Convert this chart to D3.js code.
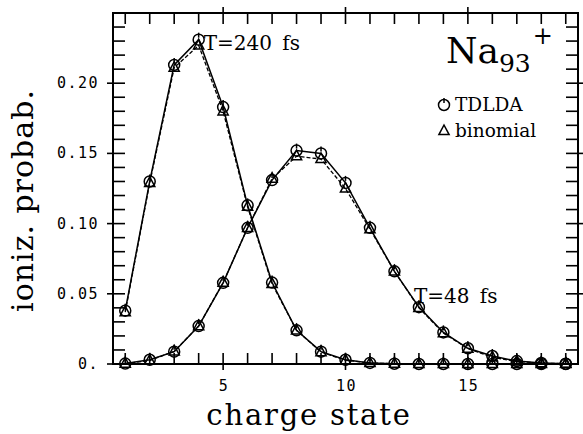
<!DOCTYPE html>
<html>
<head>
<meta charset="utf-8">
<script src="https://cdn.jsdelivr.net/npm/d3@7"></script>
<style>
body { margin: 0; background: #fff; }
</style>
</head>
<body>
<div id="chart"></div>
<script>
// data
var charge = [1, 2, 3, 4, 5, 6, 7, 8, 9, 10, 11, 12, 13, 14, 15, 16, 17, 18, 19];
var tdlda240 = [0.038, 0.130, 0.213, 0.231, 0.183, 0.113, 0.058, 0.024, 0.0088, 0.003, 0.0008, 0.0002, 0, 0, 0, 0, 0, 0, 0];
var binom240 = [0.037, 0.129, 0.211, 0.227, 0.180, 0.112, 0.057, 0.024, 0.0085, 0.0027, 0.0007, 0.0002, 0, 0, 0, 0, 0, 0, 0];
var tdlda48 = [0.0003, 0.003, 0.0088, 0.027, 0.0578, 0.097, 0.131, 0.152, 0.150, 0.129, 0.097, 0.066, 0.0405, 0.0225, 0.0112, 0.0057, 0.0021, 0.0007, 0.0002];
var binom48 = [0.0003, 0.0025, 0.009, 0.027, 0.058, 0.097, 0.132, 0.148, 0.146, 0.125, 0.096, 0.066, 0.040, 0.022, 0.011, 0.0048, 0.0018, 0.0006, 0.0002];
var xTickLabels = [5, 10, 15];
var yTickLabels = ['0.', '0.05', '0.10', '0.15', '0.20'];

var W = 583, H = 434;
var margin = { top: 13, right: 5, bottom: 70, left: 113 };
var width = W - margin.left - margin.right;
var height = H - margin.top - margin.bottom;

var svg = d3.select('#chart')
	.append('svg')
	.attr('width', W)
	.attr('height', H)
	.append('g')
	.attr('transform', 'translate(' + margin.left + ',' + margin.top + ')');

var x = d3.scaleLinear().domain([0.5, 19.5]).range([0, width]);
var y = d3.scaleLinear().domain([0, 0.25]).range([height, 0]);

var ink = '#000';

// frame
svg.append('rect')
	.attr('width', width).attr('height', height)
	.attr('fill', 'none').attr('stroke', ink).attr('stroke-width', 2);

// ticks, all sides, inward; major ones poke out
var g = svg.append('g').attr('stroke', ink).attr('stroke-width', 1.6);
d3.range(1, 20).forEach(function (v) {
	var out = v % 5 === 0 ? 6 : 0;
	g.append('line').attr('x1', x(v)).attr('x2', x(v)).attr('y1', height + out).attr('y2', height - 11);
	g.append('line').attr('x1', x(v)).attr('x2', x(v)).attr('y1', -out).attr('y2', 11);
});
d3.range(1, 25).forEach(function (i) {
	var v = i / 100;
	var out = i % 5 === 0 ? 6 : 0;
	g.append('line').attr('x1', -out).attr('x2', 12).attr('y1', y(v)).attr('y2', y(v));
	g.append('line').attr('x1', width + out).attr('x2', width - 12).attr('y1', y(v)).attr('y2', y(v));
});
g.append('line').attr('x1', -6).attr('x2', 0).attr('y1', y(0)).attr('y2', y(0));

// tick labels
var mono = 'DejaVu Sans Mono, monospace';
svg.selectAll('.ylab').data(yTickLabels).enter().append('text')
	.attr('x', -14)
	.attr('y', function (d, i) { return y(i * 0.05) + 5; })
	.attr('text-anchor', 'end')
	.style('font-family', mono).style('font-size', '15px').style('letter-spacing', '1.5px')
	.text(function (d) { return d; });
svg.selectAll('.xlab').data(xTickLabels).enter().append('text')
	.attr('x', function (d) { return x(d) + 1; })
	.attr('y', height + 27)
	.attr('text-anchor', 'middle')
	.style('font-family', mono).style('font-size', '15px').style('letter-spacing', '1.5px')
	.text(function (d) { return d; });

// axis titles
var serif = 'DejaVu Serif, serif';
svg.append('text')
	.attr('x', 196).attr('y', height + 61)
	.attr('text-anchor', 'middle')
	.style('font-family', serif).style('font-size', '29px').style('letter-spacing', '1.8px')
	.text('charge state');
svg.append('text')
	.attr('transform', 'translate(' + (-80) + ',' + (height / 2 + 12) + ') rotate(-90)')
	.attr('text-anchor', 'middle')
	.style('font-family', serif).style('font-size', '30px').style('letter-spacing', '1px')
	.text('ioniz. probab.');

// lines
var line = d3.line()
	.x(function (d, i) { return x(charge[i]); })
	.y(function (d) { return y(d); });

[tdlda240, tdlda48].forEach(function (s) {
	svg.append('path').datum(s).attr('d', line)
		.attr('fill', 'none').attr('stroke', ink).attr('stroke-width', 1.5);
});
[binom240, binom48].forEach(function (s) {
	svg.append('path').datum(s).attr('d', line)
		.attr('fill', 'none').attr('stroke', ink).attr('stroke-width', 1.3)
		.attr('stroke-dasharray', '4,2');
});

// markers
function circle(sel, cx, cy) {
	sel.append('circle').attr('cx', cx).attr('cy', cy).attr('r', 5.5)
		.attr('fill', 'none').attr('stroke', ink).attr('stroke-width', 1.5);
	sel.append('line').attr('x1', cx).attr('x2', cx).attr('y1', cy - 7).attr('y2', cy - 2)
		.attr('stroke', ink).attr('stroke-width', 1.5);
}
function triangle(sel, cx, cy) {
	var r = 6;
	sel.append('path')
		.attr('d', 'M' + cx + ',' + (cy - r) + 'L' + (cx + r * 0.85) + ',' + (cy + r * 0.6) + 'L' + (cx - r * 0.85) + ',' + (cy + r * 0.6) + 'Z')
		.attr('fill', 'none').attr('stroke', ink).attr('stroke-width', 1.5);
}
var mk = svg.append('g');
[tdlda240, tdlda48].forEach(function (s) {
	s.forEach(function (v, i) { circle(mk, x(charge[i]), y(v)); });
});
[binom240, binom48].forEach(function (s) {
	s.forEach(function (v, i) { triangle(mk, x(charge[i]), y(v)); });
});

// annotations
svg.append('text').attr('x', x(4) + 5).attr('y', 37)
	.style('font-family', serif).style('font-size', '20px').style('word-spacing', '4px')
	.text('T=240 fs');
svg.append('text').attr('x', x(13) - 5).attr('y', 290)
	.style('font-family', serif).style('font-size', '20px').style('word-spacing', '4px')
	.text('T=48 fs');

var lab = svg.append('text').attr('x', 333).attr('y', 50)
	.style('font-family', serif).style('font-size', '36px');
lab.append('tspan').text('Na');
lab.append('tspan').attr('dy', 9).style('font-size', '25px').text('93');
lab.append('tspan').attr('dy', -28).attr('dx', 2).style('font-size', '24px').text('+');

// legend
circle(svg, 331, 92);
svg.append('text').attr('x', 342).attr('y', 98)
	.style('font-family', serif).style('font-size', '18.5px').text('TDLDA');
triangle(svg, 331, 118);
svg.append('text').attr('x', 342).attr('y', 124)
	.style('font-family', serif).style('font-size', '18.5px').text('binomial');
</script>
</body>
</html>
